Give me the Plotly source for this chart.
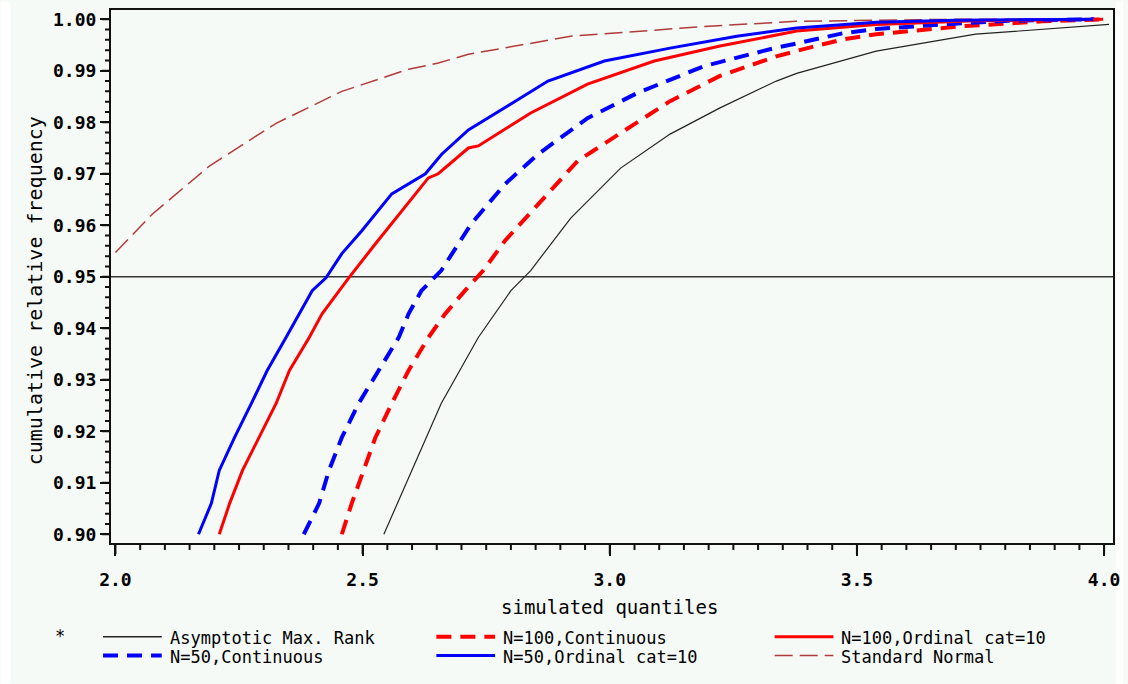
import plotly.graph_objects as go

# ---------------- data ----------------
asym_x = [2.543, 2.599, 2.659, 2.734, 2.800, 2.840, 2.921, 3.022, 3.122, 3.223, 3.337, 3.378, 3.539, 3.740, 4.010]
asym_y = [0.9000, 0.9124, 0.9254, 0.9382, 0.9473, 0.9512, 0.9614, 0.9711, 0.9777, 0.9828, 0.9880, 0.9895, 0.9938, 0.9971, 0.9990]

n100c_x = [2.458, 2.478, 2.502, 2.526, 2.559, 2.593, 2.633, 2.667, 2.707, 2.744, 2.788, 2.855, 2.935, 3.022, 3.122, 3.223, 3.337, 3.404, 3.472, 3.539, 3.706, 3.875, 3.998]
n100c_y = [0.9000, 0.9060, 0.9124, 0.9188, 0.9254, 0.9318, 0.9382, 0.9428, 0.9473, 0.9512, 0.9570, 0.9641, 0.9725, 0.9779, 0.9841, 0.9890, 0.9928, 0.9945, 0.9961, 0.9971, 0.9986, 0.9996, 1.0000]

n100o_x = [2.210, 2.231, 2.257, 2.291, 2.325, 2.352, 2.392, 2.418, 2.452, 2.472, 2.526, 2.579, 2.633, 2.653, 2.714, 2.734, 2.840, 2.955, 3.090, 3.223, 3.378, 3.539, 3.740, 3.998]
n100o_y = [0.9000, 0.9060, 0.9124, 0.9188, 0.9254, 0.9318, 0.9382, 0.9428, 0.9473, 0.9498, 0.9564, 0.9628, 0.9692, 0.9700, 0.9750, 0.9754, 0.9818, 0.9874, 0.9919, 0.9948, 0.9977, 0.9990, 0.9997, 1.0000]

n50c_x = [2.381, 2.412, 2.432, 2.458, 2.492, 2.532, 2.573, 2.593, 2.619, 2.659, 2.720, 2.788, 2.855, 2.955, 3.056, 3.191, 3.337, 3.378, 3.472, 3.539, 3.673, 3.807, 3.980]
n50c_y = [0.9000, 0.9060, 0.9124, 0.9188, 0.9254, 0.9318, 0.9382, 0.9428, 0.9473, 0.9512, 0.9603, 0.9680, 0.9738, 0.9808, 0.9857, 0.9909, 0.9945, 0.9953, 0.9973, 0.9981, 0.9990, 0.9997, 1.0000]

n50o_x = [2.168, 2.194, 2.210, 2.241, 2.275, 2.307, 2.345, 2.372, 2.398, 2.426, 2.458, 2.498, 2.559, 2.627, 2.660, 2.714, 2.788, 2.875, 2.989, 3.122, 3.257, 3.378, 3.539, 3.700, 3.978]
n50o_y = [0.9000, 0.9060, 0.9124, 0.9188, 0.9254, 0.9318, 0.9382, 0.9428, 0.9473, 0.9498, 0.9545, 0.9589, 0.9661, 0.9700, 0.9738, 0.9785, 0.9828, 0.9880, 0.9919, 0.9944, 0.9967, 0.9983, 0.9994, 0.9998, 1.0000]

norm_x = [2.000, 2.075, 2.190, 2.325, 2.458, 2.593, 2.653, 2.714, 2.921, 3.191, 3.378, 3.700, 4.000]
norm_y = [0.9547, 0.9622, 0.9715, 0.9798, 0.9860, 0.9903, 0.9915, 0.9932, 0.9967, 0.9986, 0.9996, 1.0000, 1.0000]

ref_level = 0.95

x_ticks = [2.0, 2.5, 3.0, 3.5, 4.0]
x_tick_labels = ["2.0", "2.5", "3.0", "3.5", "4.0"]
y_ticks = [0.90, 0.91, 0.92, 0.93, 0.94, 0.95, 0.96, 0.97, 0.98, 0.99, 1.00]
y_tick_labels = ["0.90", "0.91", "0.92", "0.93", "0.94", "0.95", "0.96", "0.97", "0.98", "0.99", "1.00"]

legend_labels = ["Asymptotic Max. Rank", "N=100,Continuous", "N=100,Ordinal cat=10",
                 "N=50,Continuous", "N=50,Ordinal cat=10", "Standard Normal"]

# ---------------- styling ----------------
W, H = 1128, 684
L, R, T, B = 111, 10, 8, 141
PW, PH = W - L - R, H - T - B
BG = "#f5faf7"
MONO = "DejaVu Sans Mono"
AXC = "#111111"

RED = "#ff0000"
BLUE = "#0000ff"
BROWN = "#b23a3a"
BLACK = "#222222"
DASH = "15px,9px"

styles = {
    "Asymptotic Max. Rank": dict(color=BLACK, width=1.2, dash="solid"),
    "N=100,Continuous": dict(color=RED, width=4, dash=DASH),
    "N=100,Ordinal cat=10": dict(color=RED, width=3, dash="solid"),
    "N=50,Continuous": dict(color=BLUE, width=4, dash=DASH),
    "N=50,Ordinal cat=10": dict(color=BLUE, width=3, dash="solid"),
    "Standard Normal": dict(color=BROWN, width=1.5, dash="18px,7px"),
}

X_RANGE = [1.991, 4.018]
Y_RANGE = [0.8983, 1.0018]


def px(x):
    return (x - L) / PW


def py(y):
    return (H - B - y) / PH


def xv2paper(v):
    return (v - X_RANGE[0]) / (X_RANGE[1] - X_RANGE[0])


def yv2paper(v):
    return (v - Y_RANGE[0]) / (Y_RANGE[1] - Y_RANGE[0])


fig = go.Figure()
series = [
    ("Standard Normal", norm_x, norm_y),
    ("Asymptotic Max. Rank", asym_x, asym_y),
    ("N=100,Continuous", n100c_x, n100c_y),
    ("N=50,Continuous", n50c_x, n50c_y),
    ("N=100,Ordinal cat=10", n100o_x, n100o_y),
    ("N=50,Ordinal cat=10", n50o_x, n50o_y),
]
for name, xs, ys in series:
    fig.add_trace(go.Scatter(x=xs, y=ys, mode="lines", name=name,
                             line=styles[name], showlegend=False, hoverinfo="skip"))

shapes = []
shapes.append(dict(type="rect", xref="paper", yref="paper", x0=px(0), x1=px(10), y0=py(H), y1=py(0),
                   fillcolor="white", line=dict(width=0), layer="below"))
shapes.append(dict(type="rect", xref="paper", yref="paper", x0=px(1121), x1=px(W), y0=py(H), y1=py(0),
                   fillcolor="white", line=dict(width=0), layer="below"))
shapes.append(dict(type="line", xref="paper", yref="y", x0=0, x1=1, y0=ref_level, y1=ref_level,
                   line=dict(color="#333333", width=1.5), layer="below"))

# tick marks drawn as one path per axis (axis decoration): major + minor
xpath = []
for k in range(41):
    xp = xv2paper(2.0 + 0.05 * k)
    ln = 11 if k % 10 == 0 else 7
    xpath.append("M{:.5f},{:.5f}V{:.5f}".format(xp, 0.0, -ln / PH))
shapes.append(dict(type="path", xref="paper", yref="paper", path=" ".join(xpath),
                   line=dict(color=AXC, width=2), layer="above"))
ypath = []
for k in range(51):
    yp = yv2paper(0.90 + 0.002 * k)
    ln = 9 if k % 5 == 0 else 6
    ypath.append("M{:.5f},{:.5f}H{:.5f}".format(0.0, yp, -ln / PW))
shapes.append(dict(type="path", xref="paper", yref="paper", path=" ".join(ypath),
                   line=dict(color=AXC, width=2), layer="above"))

annotations = []
legend_cols = [103, 438, 778]
legend_rows = [637, 656]
for i, name in enumerate(legend_labels):
    r, c = divmod(i, 3)
    x0 = legend_cols[c]
    yy = legend_rows[r]
    st = styles[name]
    shapes.append(dict(type="line", xref="paper", yref="paper",
                       x0=px(x0), x1=px(x0 + 59), y0=py(yy), y1=py(yy),
                       line=dict(color=st["color"], width=st["width"] if st["width"] > 2 else 1.5,
                                 dash=st["dash"])))
    annotations.append(dict(text=name, xref="paper", yref="paper", x=px(x0 + 65), y=py(yy + 1),
                            xanchor="left", yanchor="middle", showarrow=False,
                            font=dict(family=MONO, size=17, color="black")))
annotations.append(dict(text="*", xref="paper", yref="paper", x=px(60), y=py(636),
                        xanchor="center", yanchor="middle", showarrow=False,
                        font=dict(family=MONO, size=17, color="black")))
annotations.append(dict(text="simulated quantiles", xref="paper", yref="paper", x=px(612), y=py(607),
                        xanchor="center", yanchor="middle", showarrow=False,
                        font=dict(family=MONO, size=19, color="black")))
annotations.append(dict(text="cumulative relative frequency", xref="paper", yref="paper", x=px(35), y=py(290),
                        xanchor="center", yanchor="middle", showarrow=False, textangle=-90,
                        font=dict(family=MONO, size=20, color="black")))

fig.update_layout(
    width=W, height=H,
    margin=dict(l=L, r=R, t=T, b=B, pad=0),
    paper_bgcolor=BG, plot_bgcolor=BG,
    showlegend=False,
    shapes=shapes, annotations=annotations,
    xaxis=dict(range=X_RANGE, tickmode="array", tickvals=x_ticks, ticktext=x_tick_labels,
               ticks="outside", ticklen=11, tickwidth=2, tickcolor=AXC,
               showline=True, linecolor=AXC, linewidth=2, mirror=True,
               showgrid=False, zeroline=False, ticklabelstandoff=8,
               tickfont=dict(family=MONO, size=18, color="black", weight="bold")),
    yaxis=dict(range=Y_RANGE, tickmode="array", tickvals=y_ticks, ticktext=y_tick_labels,
               ticks="outside", ticklen=9, tickwidth=2, tickcolor=AXC,
               showline=True, linecolor=AXC, linewidth=2, mirror=True,
               showgrid=False, zeroline=False,
               tickfont=dict(family=MONO, size=18, color="black", weight="bold")),
)

fig.write_html("out.html")
